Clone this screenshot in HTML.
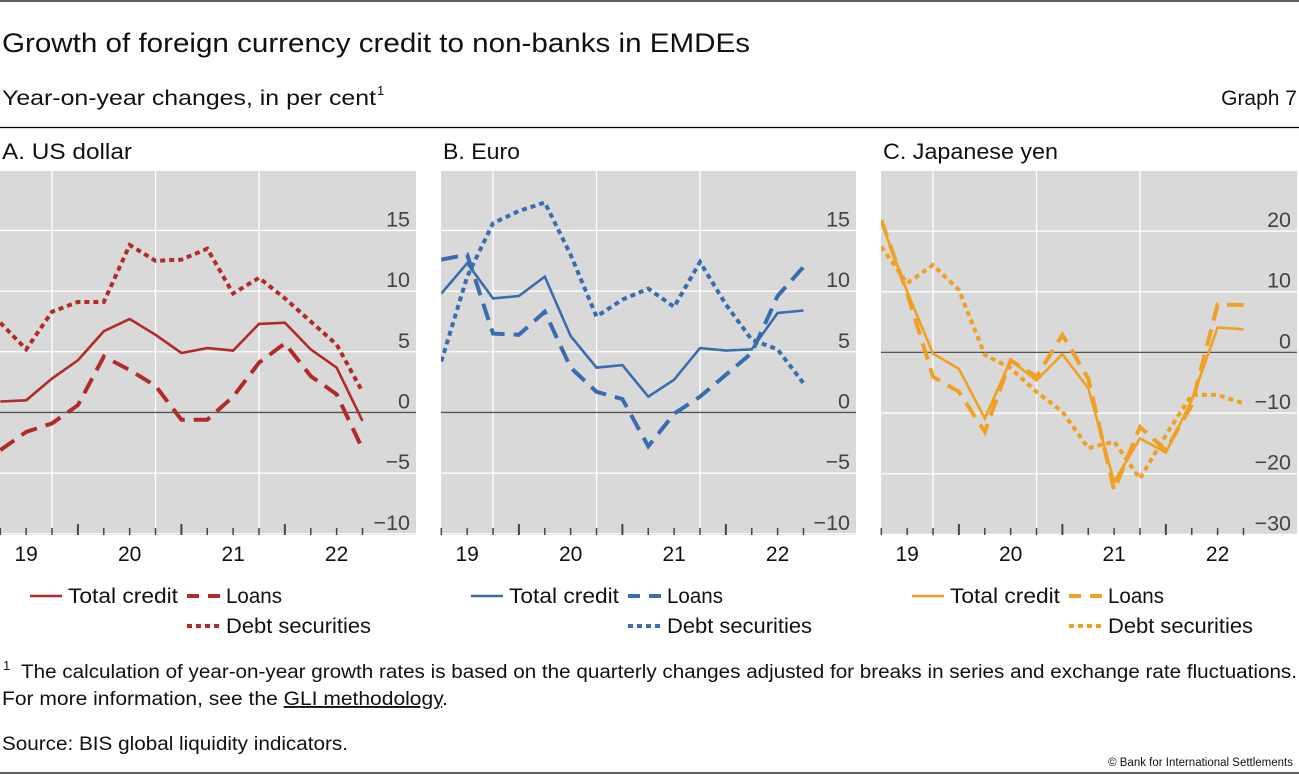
<!DOCTYPE html>
<html><head><meta charset="utf-8"><style>
body{margin:0;background:#fff;}
svg{display:block;font-family:"Liberation Sans",Arial,sans-serif;}
</style></head><body>
<svg id="chart" width="1299" height="775" viewBox="0 0 1299 775" xmlns="http://www.w3.org/2000/svg">
<line x1="0" y1="1" x2="1299" y2="1" stroke="#000" stroke-width="1.2"/>
<text x="2" y="52" font-size="27" fill="#111" textLength="748" lengthAdjust="spacingAndGlyphs">Growth of foreign currency credit to non-banks in EMDEs</text>
<text x="2" y="105" font-size="21" fill="#111" textLength="374" lengthAdjust="spacingAndGlyphs">Year-on-year changes, in per cent</text>
<text x="377" y="95" font-size="13" fill="#111">1</text>
<text x="1297" y="105" font-size="21" fill="#111" text-anchor="end">Graph 7</text>
<line x1="0" y1="127.5" x2="1299" y2="127.5" stroke="#000" stroke-width="1.2"/>
<g id="panels"></g>
<text x="3" y="670" font-size="13" fill="#111">1</text>
<text x="21" y="678" font-size="19" fill="#111" textLength="1276" lengthAdjust="spacingAndGlyphs">The calculation of year-on-year growth rates is based on the quarterly changes adjusted for breaks in series and exchange rate fluctuations.</text>
<text x="2" y="705" font-size="19" fill="#111" textLength="446" lengthAdjust="spacingAndGlyphs">For more information, see the <tspan text-decoration="underline">GLI methodology</tspan>.</text>
<text x="2" y="750" font-size="19" fill="#111" textLength="346" lengthAdjust="spacingAndGlyphs">Source: BIS global liquidity indicators.</text>
<text x="1293" y="766" font-size="11.5" fill="#111" text-anchor="end">© Bank for International Settlements</text>
<line x1="0" y1="773" x2="1299" y2="773" stroke="#000" stroke-width="1.2"/>
</svg>
<script>
const quarters = ["2018Q4","2019Q1","2019Q2","2019Q3","2019Q4","2020Q1","2020Q2","2020Q3","2020Q4","2021Q1","2021Q2","2021Q3","2021Q4","2022Q1","2022Q2"];
const yearLabels = ["19","20","21","22"];
const yearLabelQuarters = ["2019Q1","2020Q1","2021Q1","2022Q1"];
const seriesNames = ["Total credit","Loans","Debt securities"];
const usdTotal = [0.9,1.0,2.8,4.3,6.7,7.7,6.4,4.9,5.3,5.1,7.3,7.4,5.2,3.7,-0.7];
const usdLoans = [-3.1,-1.6,-0.9,0.6,4.6,3.5,2.2,-0.6,-0.6,1.3,4.1,5.7,3.0,1.5,-3.0];
const usdDebt = [7.4,5.2,8.3,9.1,9.1,13.8,12.5,12.6,13.5,9.8,11.1,9.4,7.5,5.6,1.7];
const eurTotal = [9.8,12.3,9.4,9.6,11.2,6.3,3.7,3.9,1.3,2.7,5.3,5.1,5.2,8.2,8.4];
const eurLoans = [12.6,13.0,6.5,6.4,8.3,3.7,1.7,1.1,-2.8,-0.1,1.3,3.1,4.9,9.6,12.0];
const eurDebt = [4.2,11.2,15.6,16.6,17.3,13.0,7.9,9.3,10.2,8.7,12.4,8.9,6.0,5.2,2.4];
const jpyTotal = [21.5,10.0,-0.2,-2.7,-10.9,-1.3,-4.6,-0.3,-5.9,-21.3,-14.2,-16.5,-7.9,4.1,3.8];
const jpyLoans = [21.8,9.7,-4.0,-6.5,-13.1,-1.3,-4.0,2.9,-4.3,-22.7,-12.3,-16.1,-8.7,7.9,7.8];
const jpyDebt = [17.4,11.4,14.4,10.3,-0.4,-2.6,-6.5,-9.8,-15.8,-14.7,-20.8,-13.6,-7.0,-7.0,-8.4];
const usdTicks = [-10,-5,0,5,10,15];
const eurTicks = [-10,-5,0,5,10,15];
const jpyTicks = [-30,-20,-10,0,10,20];

const NS="http://www.w3.org/2000/svg";
const root=document.getElementById('panels');
function mk(tag,attrs,parent){const e=document.createElementNS(NS,tag);for(const k in attrs)e.setAttribute(k,attrs[k]);(parent||root).appendChild(e);return e;}

const panels=[
 {key:'usd',title:'A. US dollar',tw:130,left:0,right:416,color:'#b22b2b',ymin:-10.1,ymax:19.9,ticks:usdTicks,step:5,data:[usdTotal,usdLoans,usdDebt],legX:30},
 {key:'eur',title:'B. Euro',tw:77,left:441,right:856,color:'#3a6db0',ymin:-10.1,ymax:19.9,ticks:eurTicks,step:5,data:[eurTotal,eurLoans,eurDebt],legX:471},
 {key:'jpy',title:'C. Japanese yen',tw:175,left:881,right:1297,color:'#f0a023',ymin:-30.1,ymax:29.9,ticks:jpyTicks,step:10,data:[jpyTotal,jpyLoans,jpyDebt],legX:912}
];
const TOP=171,BOT=535,QSTEP=25.87;
const dashes=['none','17 9','5 4'];
const widths=[2.6,4,4];

panels.forEach(p=>{
  const g=mk('g',{});
  
  
  const x=i=>p.left+0.3+QSTEP*i;
  const y=v=>TOP+(p.ymax-v)/(p.ymax-p.ymin)*(BOT-TOP);
  const t=mk('text',{x:p.left+2,y:159,'font-size':22,fill:'#111',textLength:p.tw,lengthAdjust:'spacingAndGlyphs'},g);t.textContent=p.title;
  
  
  const bg=mk('rect',{x:p.left,y:TOP,width:p.right-p.left,height:BOT-TOP,fill:'#d9d9d9'},g);
  
  
  for(let v=p.ymin+0.1; v<=p.ymax; v+=p.step){
    if(Math.abs(v)<1e-6) continue;
    const gl=mk('line',{x1:p.left,x2:p.right,y1:y(v),y2:y(v),stroke:'#fff','stroke-width':1.3},g);
    
    
  }
  [2,6,10].forEach(i=>{
    const vl=mk('line',{x1:x(i),x2:x(i),y1:TOP,y2:BOT,stroke:'#fff','stroke-width':1.3},g);
    
    
  });
  const z=mk('line',{x1:p.left,x2:p.right,y1:y(0),y2:y(0),stroke:'#555','stroke-width':1.3},g);
  
  
  for(let i=0;i<quarters.length;i++){
    const major=(i-1)%4===2;
    const tk=mk('line',{x1:x(i),x2:x(i),y1:major?BOT-11:BOT-7,y2:BOT,stroke:'#444','stroke-width':major?2:1.5},g);
    
    
  }
  p.ticks.forEach(v=>{
    const tl=mk('text',{x:p.right-6,y:y(v)-4,'font-size':21.5,fill:'#444','text-anchor':'end'},g);
    tl.textContent=(v<0?'\u2212'+(-v):String(v));
    
    
  });
  yearLabels.forEach((lab,k)=>{
    const i=quarters.indexOf(yearLabelQuarters[k]);
    const xl=mk('text',{x:x(i),y:561,'font-size':21,fill:'#111','text-anchor':'middle'},g);
    xl.textContent=lab;
    
    
  });
  const cp=mk('clipPath',{id:'clip-'+p.key},g);
  mk('rect',{x:p.left,y:TOP,width:p.right-p.left,height:BOT-TOP},cp);
  p.data.forEach((arr,s)=>{
    const d=arr.map((v,i)=>(i?'L':'M')+x(i).toFixed(1)+' '+y(v).toFixed(1)).join(' ');
    const a={d:d,fill:'none',stroke:p.color,'stroke-width':widths[s],'stroke-linejoin':'miter','clip-path':'url(#clip-'+p.key+')'};
    if(dashes[s]!=='none')a['stroke-dasharray']=dashes[s];
    const path=mk('path',a,g);
    
    
  });
  const lx=p.legX;
  const items=[[lx,596,lx+32,lx+38,0,110],[lx+157,596,lx+192,lx+196,1,56],[lx+157,626,lx+190,lx+196,2,145]];
  items.forEach(([x1,yy,x2,tx,s,tw])=>{
    const lg=mk('g',{},g);
    
    
    const la={x1:x1,x2:x2,y1:yy,y2:yy,stroke:p.color,'stroke-width':s?4:2.6};
    if(s===1)la['stroke-dasharray']='12 9';
    if(s===2)la['stroke-dasharray']='5 4';
    mk('line',la,lg);
    const lt=mk('text',{x:tx,y:yy+7,'font-size':21,fill:'#111',textLength:tw,lengthAdjust:'spacingAndGlyphs'},lg);
    lt.textContent=seriesNames[s];
  });
});
</script>
</body></html>
